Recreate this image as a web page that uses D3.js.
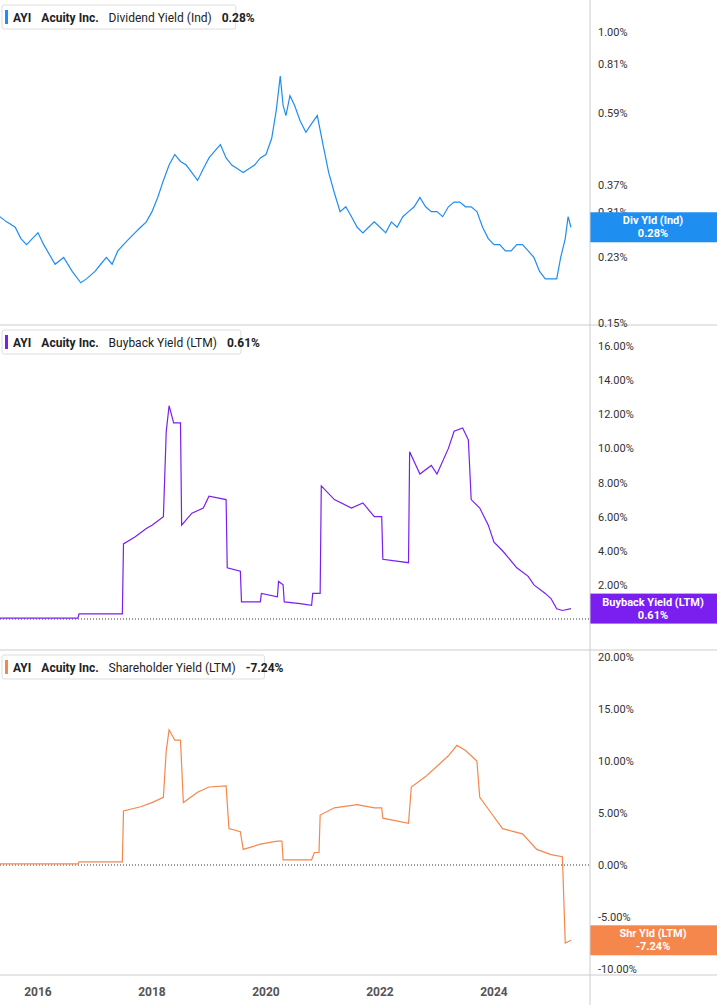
<!DOCTYPE html>
<html><head><meta charset="utf-8">
<script src="https://cdn.jsdelivr.net/npm/d3@7"></script>
<style>body{margin:0;background:#fff;font-family:Roboto,"Open Sans",sans-serif}</style>
</head><body><div id="chart"></div>
<script>
// values: [year, percent]
const divYield = [[2015.33,0.30],[2015.45,0.29],[2015.6,0.28],[2015.7,0.26],[2015.8,0.25],[2015.9,0.26],[2016.0,0.27],[2016.1,0.25],[2016.3,0.22],[2016.45,0.23],[2016.6,0.21],[2016.75,0.195],[2016.85,0.20],[2017.0,0.21],[2017.1,0.22],[2017.2,0.23],[2017.3,0.22],[2017.4,0.24],[2017.5,0.25],[2017.6,0.26],[2017.7,0.27],[2017.8,0.28],[2017.9,0.29],[2018.0,0.31],[2018.1,0.34],[2018.2,0.38],[2018.3,0.42],[2018.4,0.45],[2018.5,0.43],[2018.6,0.42],[2018.7,0.40],[2018.8,0.38],[2018.9,0.41],[2019.0,0.44],[2019.1,0.46],[2019.2,0.48],[2019.3,0.44],[2019.4,0.42],[2019.5,0.41],[2019.6,0.40],[2019.7,0.41],[2019.8,0.42],[2019.9,0.44],[2020.0,0.45],[2020.1,0.50],[2020.18,0.60],[2020.25,0.75],[2020.3,0.62],[2020.35,0.58],[2020.42,0.66],[2020.5,0.62],[2020.6,0.56],[2020.7,0.52],[2020.8,0.55],[2020.9,0.58],[2021.0,0.48],[2021.1,0.40],[2021.2,0.35],[2021.3,0.31],[2021.4,0.32],[2021.5,0.30],[2021.6,0.28],[2021.7,0.27],[2021.8,0.28],[2021.9,0.29],[2022.0,0.28],[2022.1,0.27],[2022.2,0.29],[2022.3,0.28],[2022.4,0.30],[2022.5,0.31],[2022.6,0.32],[2022.7,0.34],[2022.8,0.32],[2022.9,0.31],[2023.0,0.31],[2023.1,0.30],[2023.2,0.32],[2023.3,0.33],[2023.4,0.33],[2023.5,0.32],[2023.6,0.32],[2023.7,0.31],[2023.8,0.28],[2023.9,0.26],[2024.0,0.25],[2024.1,0.25],[2024.2,0.24],[2024.3,0.24],[2024.4,0.25],[2024.5,0.25],[2024.6,0.24],[2024.7,0.23],[2024.8,0.21],[2024.9,0.20],[2025.0,0.20],[2025.1,0.20],[2025.17,0.23],[2025.25,0.26],[2025.3,0.30],[2025.35,0.28]];
const buyback = [[2015.33,0.05],[2016.7,0.05],[2016.72,0.3],[2017.48,0.3],[2017.5,4.4],[2017.7,4.8],[2017.9,5.3],[2018.0,5.5],[2018.2,6.0],[2018.25,11.0],[2018.3,12.5],[2018.38,11.5],[2018.5,11.5],[2018.52,5.5],[2018.7,6.2],[2018.9,6.5],[2019.0,7.2],[2019.3,7.0],[2019.32,3.0],[2019.55,2.8],[2019.57,1.0],[2019.9,1.0],[2019.92,1.5],[2020.2,1.3],[2020.22,2.2],[2020.3,2.0],[2020.32,1.0],[2020.6,0.9],[2020.8,0.8],[2020.82,1.5],[2020.95,1.5],[2020.97,7.8],[2021.2,7.0],[2021.5,6.5],[2021.7,6.8],[2021.9,6.0],[2022.03,6.0],[2022.05,3.5],[2022.5,3.3],[2022.52,9.8],[2022.7,8.5],[2022.9,9.0],[2023.0,8.5],[2023.2,10.0],[2023.3,11.0],[2023.45,11.2],[2023.55,10.5],[2023.6,7.0],[2023.75,6.5],[2023.9,5.5],[2024.0,4.5],[2024.15,4.0],[2024.4,3.0],[2024.6,2.5],[2024.7,2.0],[2024.9,1.5],[2025.0,1.2],[2025.1,0.6],[2025.2,0.5],[2025.35,0.61]];
const shrYield = [[2015.33,0.1],[2016.7,0.1],[2016.72,0.3],[2017.48,0.3],[2017.5,5.2],[2017.8,5.6],[2018.0,6.0],[2018.2,6.5],[2018.25,11.0],[2018.3,13.0],[2018.4,12.0],[2018.5,12.0],[2018.55,6.0],[2018.8,7.0],[2019.0,7.5],[2019.3,7.6],[2019.35,3.5],[2019.55,3.2],[2019.6,1.5],[2019.9,2.0],[2020.2,2.3],[2020.28,2.3],[2020.3,0.5],[2020.8,0.5],[2020.85,1.2],[2020.93,1.2],[2020.95,4.8],[2021.2,5.5],[2021.6,5.8],[2021.9,5.5],[2022.03,5.5],[2022.05,4.5],[2022.5,4.0],[2022.55,7.5],[2022.8,8.5],[2023.0,9.5],[2023.2,10.5],[2023.35,11.5],[2023.5,11.0],[2023.7,10.0],[2023.75,6.5],[2023.95,5.0],[2024.15,3.5],[2024.5,3.0],[2024.75,1.5],[2025.0,1.0],[2025.2,0.8],[2025.25,-7.5],[2025.35,-7.24]];
const yearTicks = [2016, 2018, 2020, 2022, 2024];
const divTicks = [0.15, 0.23, 0.31, 0.37, 0.59, 0.81, 1.00];
const bbTicks = [0, 2, 4, 6, 8, 10, 12, 14, 16];
const shrTicks = [-10, -5, 0, 5, 10, 15, 20];

const W = 717, H = 1005, plotR = 590;
const svg = d3.select("#chart").append("svg").attr("width", W).attr("height", H);
const x = d3.scaleLinear().domain([2016, 2024]).range([38, 494]);

const panels = [
  { data: divYield, top: 0, bottom: 325, color: "#1f8ef1", ticks: divTicks,
    y: d3.scaleLog().domain([0.15, 1.0]).range([323, 32]),
    name: "Dividend Yield (Ind)", val: "0.28%", tag: ["Div Yld (Ind)", "0.28%"] },
  { data: buyback, top: 325, bottom: 650, color: "#7a1ff0", ticks: bbTicks, zero: true,
    y: d3.scaleLinear().domain([0, 16]).range([619, 346]),
    name: "Buyback Yield (LTM)", val: "0.61%", tag: ["Buyback Yield (LTM)", "0.61%"] },
  { data: shrYield, top: 650, bottom: 975, color: "#f5874c", ticks: shrTicks, zero: true,
    y: d3.scaleLinear().domain([-10, 20]).range([969, 657]),
    name: "Shareholder Yield (LTM)", val: "-7.24%", tag: ["Shr Yld (LTM)", "-7.24%"] }
];

panels.forEach((p) => {
  const g = svg.append("g");
  g.append("line").attr("x1", 0).attr("x2", W).attr("y1", p.bottom).attr("y2", p.bottom)
    .attr("stroke", "#ccc");
  // right axis ticks
  p.ticks.forEach((t) => {
    g.append("text").attr("x", 598).attr("y", p.y(t) + 4)
      .attr("font-size", 11).attr("fill", "#333")
      .text(t.toFixed(2) + "%");
  });
  if (p.zero) {
    g.append("line").attr("x1", 0).attr("x2", plotR).attr("y1", p.y(0)).attr("y2", p.y(0))
      .attr("stroke", "#333").attr("stroke-dasharray", "1,2");
  }
  g.append("path").datum(p.data)
    .attr("d", d3.line().x((d) => x(d[0])).y((d) => p.y(d[1])))
    .attr("fill", "none").attr("stroke", p.color).attr("stroke-width", 1.2);

  // value tag
  const last = p.data[p.data.length - 1];
  const ty = p.y(last[1]);
  g.append("rect").attr("x", plotR).attr("y", ty - 15).attr("width", W - plotR).attr("height", 30)
    .attr("fill", p.color);
  g.append("text").attr("x", 653).attr("y", ty - 3).attr("text-anchor", "middle")
    .attr("font-size", 11).attr("font-weight", "bold").attr("fill", "#fff").text(p.tag[0]);
  g.append("text").attr("x", 653).attr("y", ty + 10).attr("text-anchor", "middle")
    .attr("font-size", 11).attr("font-weight", "bold").attr("fill", "#fff").text(p.tag[1]);

  // header legend
  const hy = p.top + 5;
  const head = g.append("g");
  const txt = head.append("text").attr("x", 13).attr("y", hy + 17).attr("font-size", 12).attr("fill", "#222");
  txt.append("tspan").attr("font-weight", "bold").text("AYI");
  txt.append("tspan").attr("dx", 10).attr("font-weight", "bold").text("Acuity Inc.");
  txt.append("tspan").attr("dx", 10).text(p.name);
  txt.append("tspan").attr("dx", 10).attr("font-weight", "bold").text(p.val);
  const bw = txt.node().getComputedTextLength();
  head.insert("rect", "text").attr("x", 2).attr("y", hy).attr("width", bw + 22).attr("height", 24)
    .attr("fill", "#fff").attr("stroke", "#ddd").attr("rx", 2);
  head.append("rect").attr("x", 5).attr("y", hy + 5).attr("width", 3).attr("height", 14).attr("fill", p.color);
});

svg.append("line").attr("x1", plotR).attr("x2", plotR).attr("y1", 0).attr("y2", H).attr("stroke", "#ccc");

yearTicks.forEach((t) => {
  svg.append("text").attr("x", x(t)).attr("y", 996).attr("text-anchor", "middle")
    .attr("font-size", 12).attr("font-weight", "bold").attr("fill", "#555").text(t);
});
</script></body></html>
